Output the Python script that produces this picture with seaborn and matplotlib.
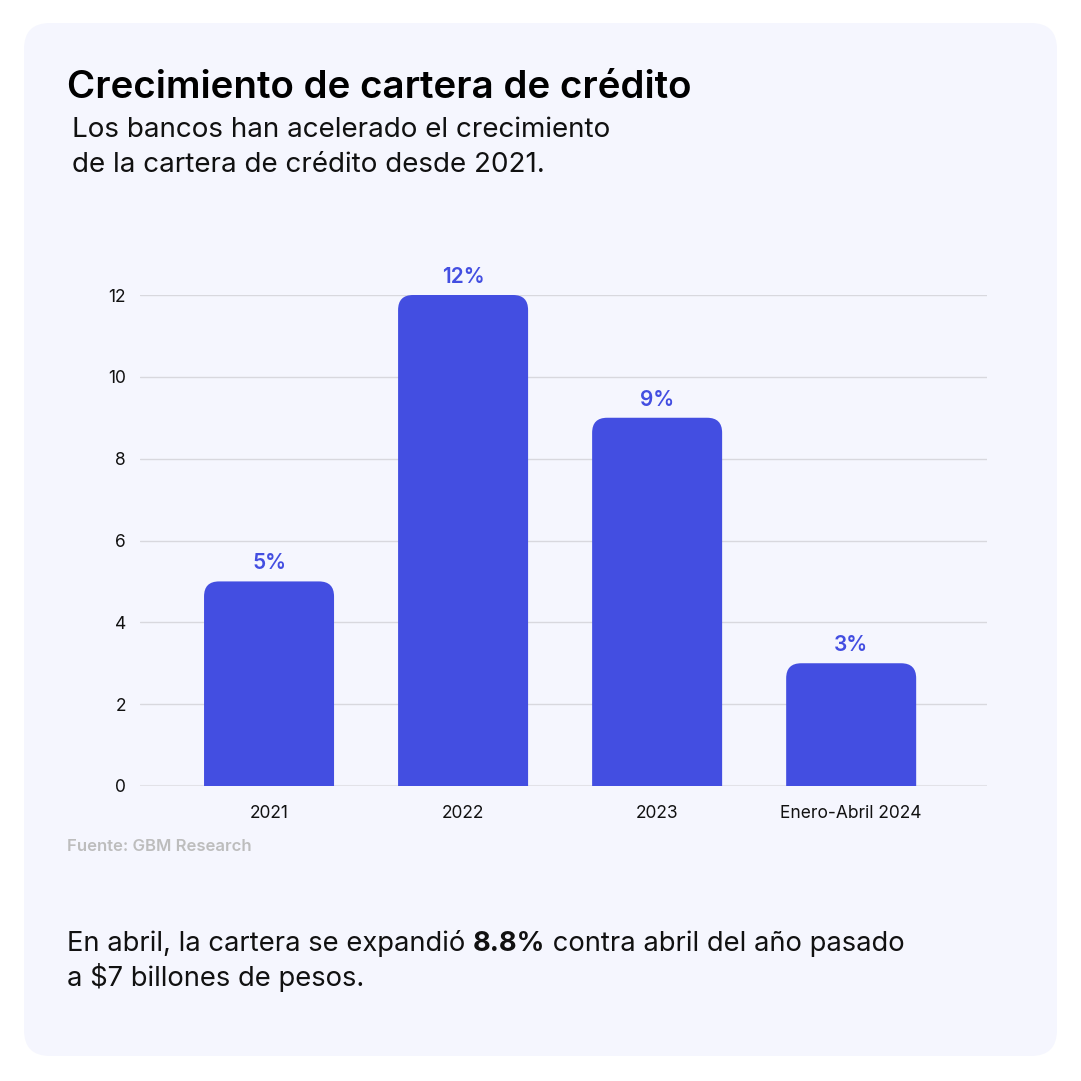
import matplotlib
matplotlib.use("Agg")
import matplotlib.pyplot as plt
from matplotlib.patches import FancyBboxPatch
import seaborn as sns
import pandas as pd

# datos
categorias = ["2021", "2022", "2023", "Enero-Abril 2024"]
crecimiento = [5, 12, 9, 3]
etiquetas = ["5%", "12%", "9%", "3%"]
yticks = [0, 2, 4, 6, 8, 10, 12]

df = pd.DataFrame({"periodo": categorias, "crecimiento": crecimiento})

W = H = 1081
BG = "#F5F6FE"
BAR = "#434EE1"
FONT = "Inter"

sns.set_style("white")
plt.rcParams["font.family"] = [FONT, "DejaVu Sans"]

fig = plt.figure(figsize=(W / 100, H / 100), dpi=100)
fig.patch.set_facecolor("white")

# tarjeta de fondo
card = FancyBboxPatch((24 / W, 1 - 1056 / H), (1057 - 24) / W, (1056 - 23) / H,
                      boxstyle="round,pad=0,rounding_size=0.024",
                      transform=fig.transFigure, facecolor=BG, edgecolor="none",
                      zorder=-10)
fig.patches.append(card)

# ejes en pixeles
left, right, y0, y12 = 140, 987, 786, 295
ax = fig.add_axes([left / W, 1 - y0 / H, (right - left) / W, (y0 - y12) / H])
ax.set_facecolor("none")

sns.barplot(data=df, x="periodo", y="crecimiento", color=BAR, width=0.67,
            saturation=1, ax=ax, zorder=3)

ax.set_ylim(0, 12)
ax.set_xlim(-0.665, 3.70)

# barras con esquinas superiores redondeadas (las de abajo quedan recortadas)
px_x = (right - left) / (3.70 + 0.665)
px_y = (y0 - y12) / 12
r_px = 15
aspect = px_x / px_y
rx = r_px / px_x
ry = r_px / px_y
for p in list(ax.patches):
    x, w, h = p.get_x(), p.get_width(), p.get_height()
    p.remove()
    ax.add_patch(FancyBboxPatch((x, -2 * ry), w, h + 2 * ry,
                                boxstyle=f"round,pad=0,rounding_size={rx}",
                                mutation_aspect=aspect, facecolor=BAR,
                                edgecolor="none", zorder=3))

for i, (v, t) in enumerate(zip(crecimiento, etiquetas)):
    ax.text(i, v + 8 / px_y, t, ha="center", va="bottom", fontsize=15,
            color=BAR, fontweight="semibold", zorder=4)

ax.set_yticks(yticks)
ax.set_yticklabels([str(t) for t in yticks])
ax.grid(axis="y", color="#D8D8DE", linewidth=1, zorder=0)
ax.axhline(0, color="#E2E2E8", linewidth=2.2, zorder=1)
for s in ax.spines.values():
    s.set_visible(False)
ax.tick_params(axis="y", length=0, pad=10, labelsize=12.5, labelcolor="#111111")
ax.tick_params(axis="x", length=0, pad=14, labelsize=12.5, labelcolor="#111111")
ax.set_xlabel("")
ax.set_ylabel("")

# textos
fig.text(67 / W, 1 - 98 / H, "Crecimiento de cartera de crédito", fontsize=27.7,
         fontweight="semibold", color="black", ha="left", va="baseline")
fig.text(72 / W, 1 - 137 / H, "Los bancos han acelerado el crecimiento",
         fontsize=20, color="#111111", ha="left", va="baseline")
fig.text(72 / W, 1 - 172 / H, "de la cartera de crédito desde 2021.",
         fontsize=20, color="#111111", ha="left", va="baseline")
fig.text(67 / W, 1 - 851 / H, "Fuente: GBM Research", fontsize=12,
         fontweight="semibold", color="#BDBDBD", ha="left", va="baseline")

# texto inferior con parte en negrita
fig.canvas.draw()
renderer = fig.canvas.get_renderer()
partes = [("En abril, la cartera se expandió ", "normal"), ("8.8%", "bold"),
          (" contra abril del año pasado", "normal")]
x = 67
for s, wgt in partes:
    t = fig.text(x / W, 1 - 951 / H, s, fontsize=19.7, fontweight=wgt,
                 color="#111111", ha="left", va="baseline")
    x = t.get_window_extent(renderer).x1
fig.text(67 / W, 1 - 986 / H, "a $7 billones de pesos.", fontsize=19.7,
         color="#111111", ha="left", va="baseline")

fig.savefig("out.png", dpi=100, facecolor="white")
